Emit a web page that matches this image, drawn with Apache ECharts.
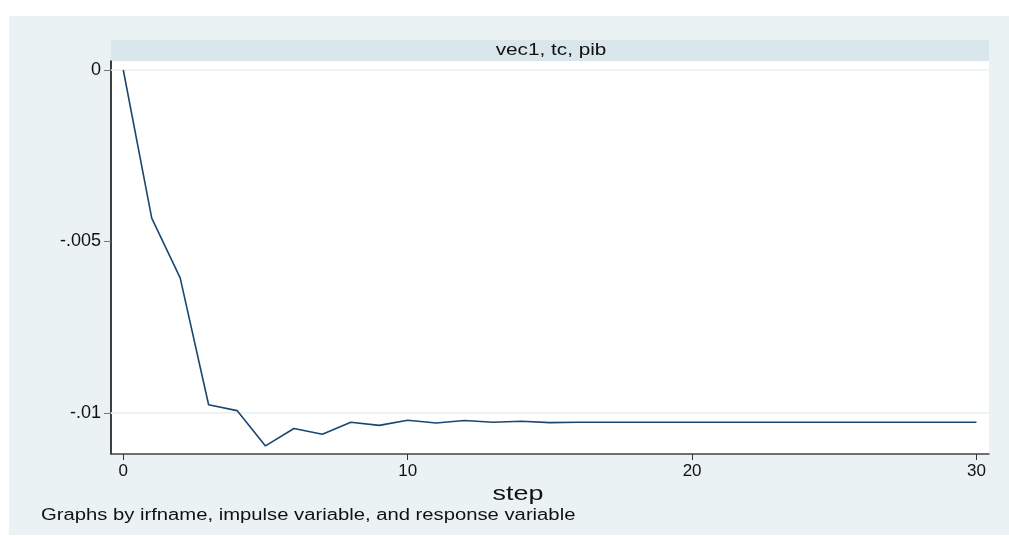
<!DOCTYPE html>
<html>
<head>
<meta charset="utf-8">
<script src="https://cdn.jsdelivr.net/npm/echarts@6/dist/echarts.min.js"></script>
<style>
  html, body { margin: 0; padding: 0; background: #ffffff; }
  #chart { width: 1009px; height: 536px; }
</style>
</head>
<body>
<div id="chart"></div>
<script>
// Impulse response of pib to tc, VEC model "vec1"
const steps = [0, 1, 2, 3, 4, 5, 6, 7, 8, 9, 10, 11, 12, 13, 14, 15,
  16, 17, 18, 19, 20, 21, 22, 23, 24, 25, 26, 27, 28, 29, 30];
const irf = [0, -0.00432, -0.00606, -0.00976, -0.00993, -0.01096, -0.01045, -0.01062,
  -0.01027, -0.01036, -0.01021, -0.01029, -0.01022, -0.01027, -0.01024, -0.01028,
  -0.01027, -0.01027, -0.01027, -0.01027, -0.01027, -0.01027, -0.01027, -0.01027,
  -0.01027, -0.01027, -0.01027, -0.01027, -0.01027, -0.01027, -0.01027];
const xTicks = [0, 10, 20, 30];
const yTicks = [-0.01, -0.005, 0];
const panelTitle = 'vec1, tc, pib';
const xTitle = 'step';
const noteText = 'Graphs by irfname, impulse variable, and response variable';

const FONT = '"Liberation Sans", Arial, Helvetica, sans-serif';
const BG = '#eaf2f3';
const STRIP = '#d9e6eb';
const LINE = '#1a476f';

// Stata-style numbers: drop the leading zero (-.005)
function fmt(v) {
  if (Math.abs(v) < 1e-12) return '0';
  return String(+v.toFixed(6)).replace(/^(-?)0\./, '$1.');
}

const points = steps.map((s, i) => [s, irf[i]]);

const chart = echarts.init(document.getElementById('chart'), null, { renderer: 'canvas' });

chart.setOption({
  animation: false,
  backgroundColor: '#ffffff',
  graphic: [
    { type: 'rect', z: -10, silent: true,
      shape: { x: 9, y: 16, width: 1000, height: 519 }, style: { fill: BG } },
    { type: 'rect', z: -9, silent: true,
      shape: { x: 111, y: 40, width: 878, height: 21 }, style: { fill: STRIP } },
    { type: 'text', silent: true, x: 551, y: 50, scaleX: 1.22,
      style: { text: panelTitle, font: '17px ' + FONT, fill: '#111', align: 'center', verticalAlign: 'middle' } },
    { type: 'text', silent: true, x: 518, y: 494, scaleX: 1.28,
      style: { text: xTitle, font: '21px ' + FONT, fill: '#111', align: 'center', verticalAlign: 'middle' } },
    { type: 'text', silent: true, x: 41, y: 516, scaleX: 1.265,
      style: { text: noteText, font: '16px ' + FONT, fill: '#111', align: 'left', verticalAlign: 'middle' } }
  ],
  grid: {
    left: 111, right: 20, top: 61, bottom: 82,
    show: true, backgroundColor: '#ffffff', borderWidth: 0
  },
  xAxis: {
    type: 'value',
    min: -0.432, max: 30.44,
    axisLine: { show: true, onZero: false, lineStyle: { color: '#444', width: 1.5 } },
    axisTick: { show: true, length: 6, customValues: xTicks, lineStyle: { color: '#333', width: 1 } },
    axisLabel: { customValues: xTicks, margin: 9, fontFamily: FONT, fontSize: 17, color: '#111',
      formatter: v => fmt(v) },
    splitLine: { show: false }
  },
  yAxis: {
    type: 'value',
    min: -0.011195, max: 0.000262,
    axisLine: { show: true, onZero: false, lineStyle: { color: '#000', width: 1.5 } },
    axisTick: { show: true, length: 7, customValues: yTicks, lineStyle: { color: '#777', width: 1 } },
    axisLabel: { customValues: yTicks, margin: 10, fontFamily: FONT, fontSize: 18, color: '#111',
      formatter: v => fmt(v) },
    splitLine: { show: false }
  },
  series: [
    {
      // horizontal grid lines, kept beneath the response line
      type: 'line',
      data: points,
      showSymbol: false,
      symbol: 'none',
      lineStyle: { opacity: 0 },
      silent: true,
      z: 1,
      markLine: {
        z: 1,
        silent: true, symbol: 'none', label: { show: false },
        lineStyle: { color: BG, width: 1.5, type: 'solid' },
        data: yTicks.map(v => ({ yAxis: v }))
      }
    },
    {
      type: 'line',
      data: points,
      showSymbol: false,
      symbol: 'none',
      lineStyle: { color: LINE, width: 1.6 },
      z: 6
    }
  ]
});
</script>
</body>
</html>
